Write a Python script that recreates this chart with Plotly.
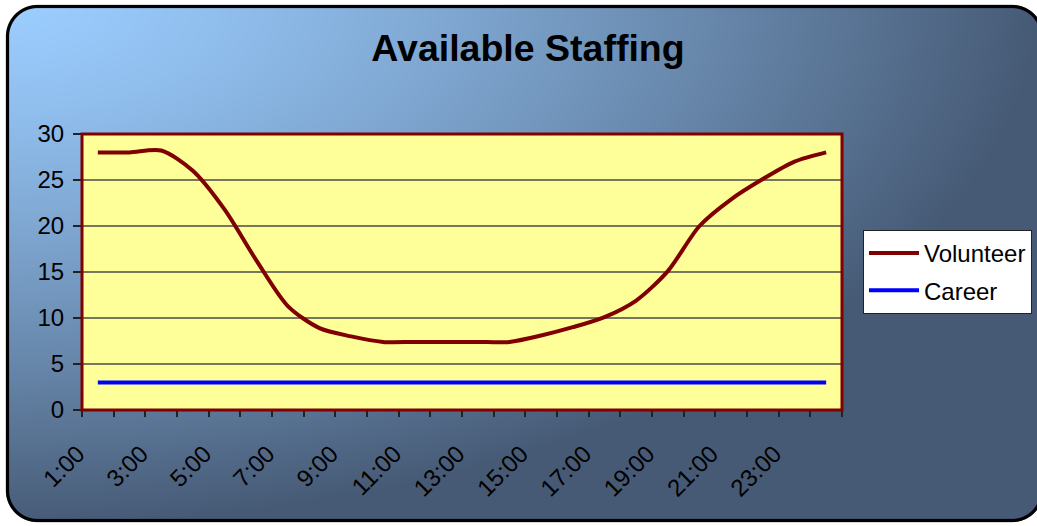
import base64
import struct
import zlib

import numpy as np
import plotly.graph_objects as go

# ---------------- data ----------------
hours = ["1:00", "2:00", "3:00", "4:00", "5:00", "6:00", "7:00", "8:00",
         "9:00", "10:00", "11:00", "12:00", "13:00", "14:00", "15:00", "16:00",
         "17:00", "18:00", "19:00", "20:00", "21:00", "22:00", "23:00", "0:00"]
volunteer = [28.0, 28.0, 28.2, 26.0, 21.8, 16.3, 11.3, 8.9, 8.0, 7.4, 7.4, 7.4,
             7.4, 7.4, 8.1, 9.0, 10.1, 11.9, 15.1, 20.0, 22.9, 25.1, 27.0, 28.0]
career = [3] * 24
y_ticks = [0, 5, 10, 15, 20, 25, 30]

# ---------------- geometry ----------------
W, H = 1037, 526
ML, MR, MT, MB = 82, 195, 134, 116
PW, PH = W - ML - MR, H - MT - MB

FONT = "Liberation Sans, Arial, sans-serif"


# ---------------- background image (gradient + rounded border) ----------------
def make_background():
    yy, xx = np.mgrid[0:H, 0:W].astype(float)
    t = np.clip(np.sqrt((xx / W) ** 2 + (yy / H) ** 2), 0, 1)
    f = t ** 1.3
    light = np.array([155.0, 205.0, 255.0])
    dark = np.array([70.0, 90.0, 117.0])
    rgb = light + (dark - light) * f[..., None]

    # rounded rectangle border
    x0, y0, x1, y1, r = 7.5, 6.5, 1042.0, 520.5, 30.0
    cx, cy = (x0 + x1) / 2, (y0 + y1) / 2
    hw, hh = (x1 - x0) / 2, (y1 - y0) / 2
    dx = np.abs(xx + 0.5 - cx) - (hw - r)
    dy = np.abs(yy + 0.5 - cy) - (hh - r)
    d = np.sqrt(np.maximum(dx, 0) ** 2 + np.maximum(dy, 0) ** 2) + np.minimum(np.maximum(dx, dy), 0) - r
    bw = 1.6
    border_cov = np.clip(bw + 0.5 - np.abs(d), 0, 1)
    outside = np.clip(d - bw + 0.5, 0, 1)
    white = np.array([255.0, 255.0, 255.0])
    rgb = rgb * (1 - outside[..., None]) + white * outside[..., None]
    rgb = rgb * (1 - border_cov[..., None])

    alpha = np.full((H, W), 255.0)
    alpha[MT:H - MB, ML:W - MR] = 0
    img = np.dstack([rgb, alpha]).round().clip(0, 255).astype(np.uint8)

    a = img.astype(np.int16)
    filt = a.copy()
    filt[:, 1:] = (a[:, 1:] - a[:, :-1]) % 256
    filt = filt.astype(np.uint8)
    raw = b"".join(b"\x01" + filt[i].tobytes() for i in range(H))

    def chunk(tag, data):
        c = struct.pack(">I", len(data)) + tag + data
        return c + struct.pack(">I", zlib.crc32(tag + data) & 0xFFFFFFFF)

    png = b"\x89PNG\r\n\x1a\n"
    png += chunk(b"IHDR", struct.pack(">IIBBBBB", W, H, 8, 6, 0, 0, 0))
    png += chunk(b"IDAT", zlib.compress(raw, 9))
    png += chunk(b"IEND", b"")
    return "data:image/png;base64," + base64.b64encode(png).decode()


xpos = list(range(1, len(hours) + 1))

fig = go.Figure()
fig.add_trace(go.Scatter(
    x=xpos, y=volunteer, name="Volunteer", mode="lines",
    line=dict(color="#800000", width=4, shape="spline", smoothing=0.8),
    legendgroup="v", hoverinfo="skip"))
fig.add_trace(go.Scatter(
    x=xpos, y=career, name="Career", mode="lines",
    line=dict(color="#0000FF", width=4),
    legendgroup="c", hoverinfo="skip"))

fig.update_layout(
    width=W, height=H,
    margin=dict(l=ML, r=MR, t=MT, b=MB, autoexpand=False),
    paper_bgcolor="white",
    plot_bgcolor="#FFFF99",
    font=dict(family=FONT, color="black", size=24),
    title=dict(text="Available Staffing", x=528 / W, xref="container", xanchor="center",
               y=1 - 48 / H, yref="container", yanchor="middle",
               font=dict(family=FONT, size=37.5, color="black", weight="bold")),
    showlegend=True,
    legend=dict(x=(863 - ML) / PW, xanchor="left", y=(H - MB - 230) / PH, yanchor="top",
                bgcolor="white", bordercolor="#222222", borderwidth=1,
                font=dict(family=FONT, size=24, color="black"),
                tracegroupgap=3, itemwidth=50),
    images=[dict(source=make_background(), xref="paper", yref="paper",
                 x=-ML / PW, y=1 + MT / PH, sizex=W / PW, sizey=H / PH,
                 xanchor="left", yanchor="top", sizing="stretch", layer="below")],
    shapes=[dict(type="rect", xref="paper", yref="paper", x0=0, x1=1, y0=0, y1=1,
                 line=dict(color="#800000", width=3), layer="above")],
)

fig.update_xaxes(
    range=[0.5, len(hours) + 0.5], showgrid=False, zeroline=False, showline=False,
    tickmode="array", tickvals=xpos[::2], ticktext=hours[::2],
    tickangle=-45, ticks="", ticklabelstandoff=24, ticklabelshift=-20,
    tickfont=dict(family=FONT, size=24, color="black"),
    minor=dict(tickmode="array", tickvals=[p - 0.5 for p in xpos] + [len(hours) + 0.5],
               ticks="outside", ticklen=6, tickwidth=1.5, tickcolor="#222222", showgrid=False),
)
fig.update_yaxes(
    range=[0, 30], tickmode="array", tickvals=y_ticks,
    showgrid=True, gridcolor="#77775f", gridwidth=1.5,
    zeroline=False, showline=False,
    ticks="outside", ticklen=8, tickwidth=1.5, tickcolor="#222222",
    ticklabelstandoff=4,
    tickfont=dict(family=FONT, size=24, color="black"),
)

fig.write_html("out.html")
